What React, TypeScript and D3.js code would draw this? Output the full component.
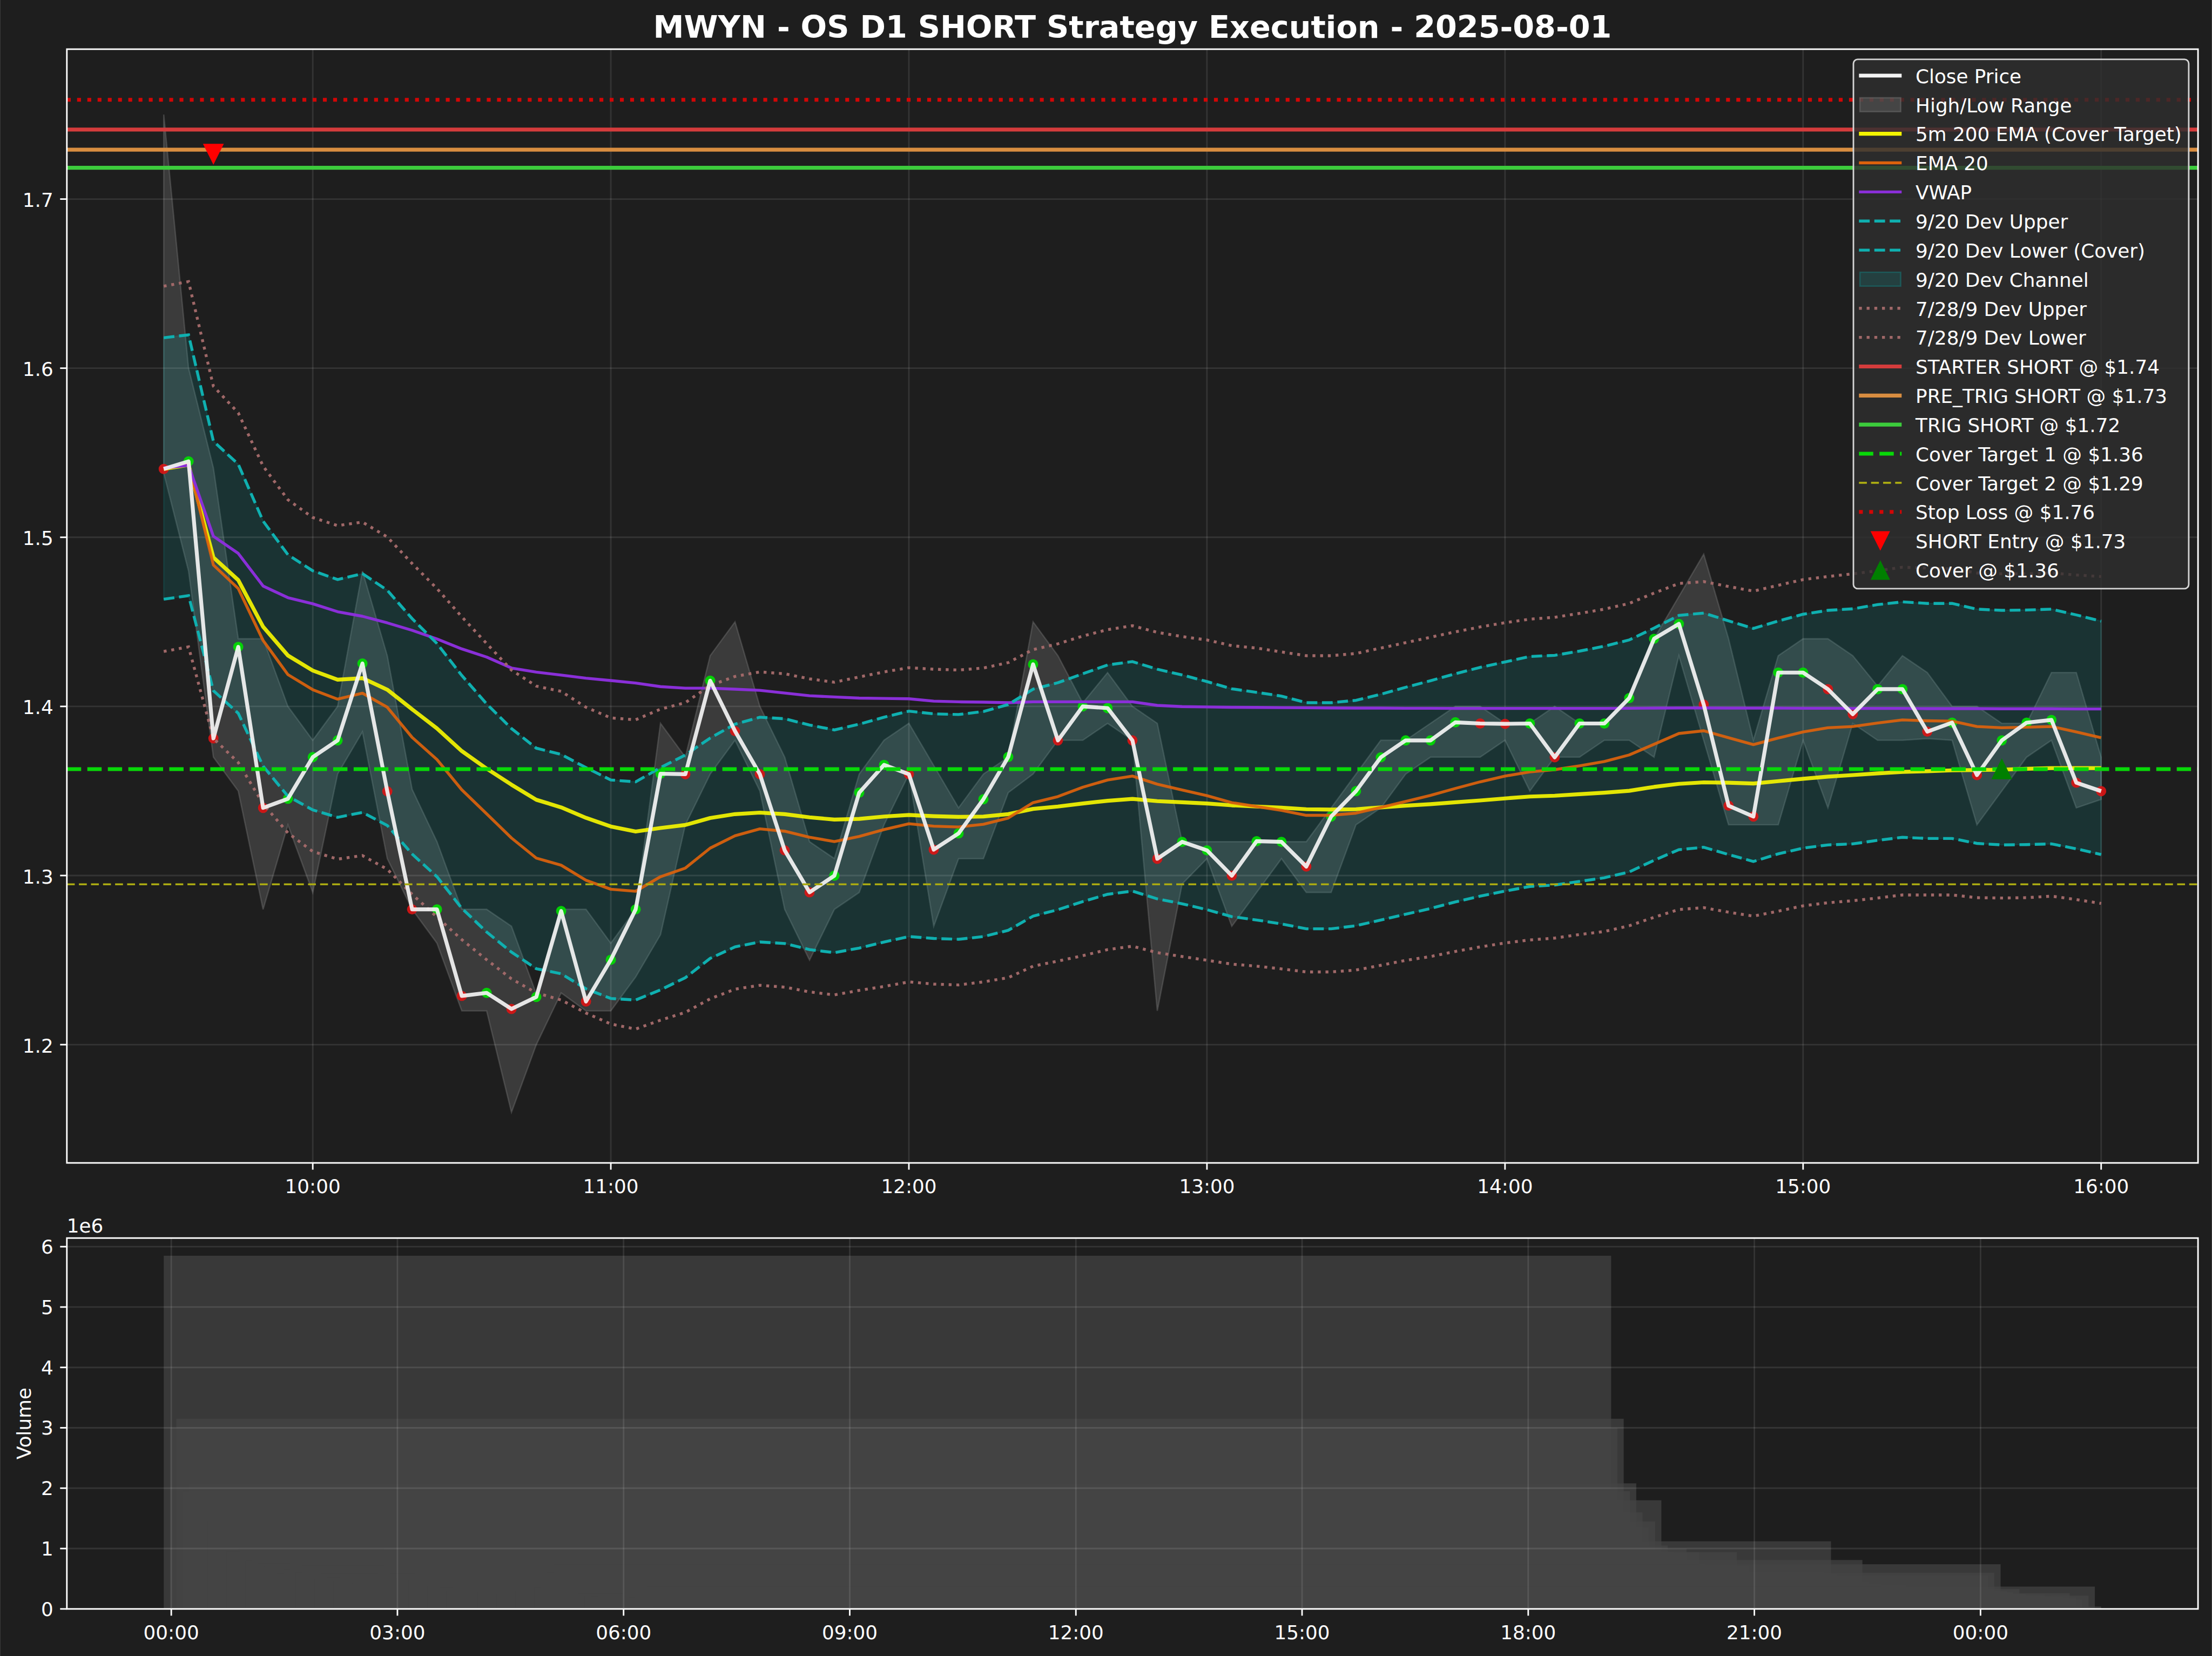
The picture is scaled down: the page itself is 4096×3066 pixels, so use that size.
import * as d3 from 'd3';

// 5-minute bars, 09:30 -> 16:00 on 2025-08-01
const closePrice = [
  1.5404, 1.5449, 1.3811, 1.4352, 1.34, 1.3454, 1.37, 1.3799, 1.4254, 1.3498,
  1.28, 1.28, 1.2288, 1.2306, 1.2211, 1.2282, 1.279, 1.2255, 1.2502, 1.28,
  1.3602, 1.3599, 1.4152, 1.3854, 1.3599, 1.3149, 1.2901, 1.2999, 1.349, 1.3654,
  1.3599, 1.3153, 1.3249, 1.3451, 1.3701, 1.4249, 1.3799, 1.4, 1.399, 1.3799,
  1.3099, 1.3199, 1.3149, 1.2999, 1.3203, 1.3199, 1.3053, 1.3349, 1.3499, 1.3699,
  1.3799, 1.3799, 1.3906, 1.3899, 1.3897, 1.3899, 1.3699, 1.3899, 1.3899, 1.4049,
  1.44, 1.4488, 1.4011, 1.3413, 1.3349, 1.42, 1.42, 1.4102, 1.3954, 1.4102,
  1.4102, 1.3851, 1.3904, 1.3594, 1.3799, 1.3904, 1.392, 1.3549, 1.3499,
];
const highPrice = [
  1.75, 1.6, 1.541, 1.44, 1.44, 1.4, 1.38, 1.4, 1.48, 1.43,
  1.351, 1.32, 1.28, 1.28, 1.27, 1.23, 1.28, 1.28, 1.26, 1.28,
  1.39, 1.37, 1.43, 1.45, 1.4, 1.37, 1.32, 1.31, 1.36, 1.38,
  1.39, 1.365, 1.34, 1.36, 1.37, 1.45, 1.43, 1.402, 1.42, 1.4,
  1.39, 1.32, 1.32, 1.32, 1.32, 1.32, 1.32, 1.34, 1.36, 1.38,
  1.38, 1.39, 1.4, 1.4, 1.39, 1.39, 1.4, 1.39, 1.39, 1.405,
  1.44, 1.465, 1.49, 1.44, 1.38, 1.43, 1.44, 1.44, 1.43, 1.412,
  1.43, 1.42, 1.4, 1.4, 1.39, 1.39, 1.42, 1.42, 1.37,
];
const lowPrice = [
  1.538, 1.48, 1.37, 1.35, 1.28, 1.33, 1.29, 1.36, 1.385, 1.31,
  1.28, 1.26, 1.22, 1.22, 1.16, 1.2, 1.2306, 1.22, 1.22, 1.24,
  1.265, 1.33, 1.36, 1.38, 1.35, 1.28, 1.25, 1.28, 1.29, 1.33,
  1.36, 1.27, 1.31, 1.31, 1.349, 1.36, 1.38, 1.38, 1.39, 1.38,
  1.22, 1.295, 1.31, 1.27, 1.29, 1.31, 1.29, 1.29, 1.33, 1.34,
  1.36, 1.37, 1.37, 1.37, 1.38, 1.35, 1.37, 1.37, 1.38, 1.38,
  1.37, 1.43, 1.38, 1.33, 1.33, 1.33, 1.38, 1.34, 1.39, 1.38,
  1.38, 1.381, 1.38, 1.33, 1.35, 1.37, 1.38, 1.34, 1.345,
];
// 1 = green marker, 0 = red marker
const upBar = [
  0, 1, 0, 1, 0, 1, 1, 1, 1, 0,
  0, 1, 0, 1, 0, 1, 1, 0, 1, 1,
  1, 0, 1, 0, 0, 0, 0, 1, 1, 1,
  0, 0, 1, 1, 1, 1, 0, 1, 1, 0,
  0, 1, 1, 0, 1, 1, 0, 1, 1, 1,
  1, 1, 1, 0, 0, 1, 0, 1, 1, 1,
  1, 1, 0, 0, 0, 1, 1, 0, 0, 1,
  1, 0, 1, 0, 1, 1, 1, 0, 0,
];
const ema200 = [
  1.5404, 1.5428, 1.4881, 1.4747, 1.4471, 1.4301, 1.4212, 1.4158, 1.4167, 1.4099,
  1.3983, 1.387, 1.3736, 1.3632, 1.3537, 1.3448, 1.3403, 1.3341, 1.329, 1.326,
  1.3281, 1.3299, 1.334, 1.3363, 1.3372, 1.3363, 1.3344, 1.3331, 1.3335, 1.3349,
  1.3358, 1.3351, 1.3347, 1.3349, 1.3363, 1.3394, 1.3408, 1.3426, 1.3442, 1.3453,
  1.344, 1.3433, 1.3426, 1.3415, 1.3408, 1.3401, 1.3392, 1.339, 1.3392, 1.3403,
  1.3413, 1.3422, 1.3433, 1.3444, 1.3456, 1.3467, 1.3472, 1.3481, 1.349, 1.3501,
  1.3524, 1.3542, 1.3551, 1.3549, 1.3544, 1.3558, 1.3572, 1.3585, 1.3594, 1.3604,
  1.3613, 1.3617, 1.3622, 1.3624, 1.3626, 1.3631, 1.3635, 1.3635, 1.3635,
];
const ema20 = [
  1.5404, 1.5434, 1.4836, 1.4697, 1.439, 1.4188, 1.4099, 1.4043, 1.4078, 1.3995,
  1.3817, 1.3686, 1.3507, 1.3365, 1.3222, 1.3103, 1.3061, 1.2972, 1.2919, 1.2907,
  1.2993, 1.3044, 1.3162, 1.3235, 1.3276, 1.3262, 1.3226, 1.3201, 1.3231, 1.3272,
  1.3306, 1.3292, 1.3287, 1.3303, 1.334, 1.3431, 1.3467, 1.3522, 1.3565, 1.3588,
  1.354, 1.3506, 1.3472, 1.3431, 1.3408, 1.3385, 1.3356, 1.3356, 1.3369, 1.3403,
  1.3438, 1.3474, 1.3515, 1.3554, 1.3588, 1.3613, 1.3626, 1.3649, 1.3674, 1.3713,
  1.3776, 1.384, 1.3856, 1.3815, 1.3774, 1.3813, 1.3849, 1.3874, 1.3881, 1.3902,
  1.392, 1.3915, 1.3913, 1.3881, 1.3874, 1.3877, 1.3881, 1.3849, 1.3815,
];
const vwap = [
  1.541, 1.5425, 1.5006, 1.4905, 1.4712, 1.4643, 1.4607, 1.456, 1.4533, 1.4494,
  1.445, 1.4399, 1.434, 1.4292, 1.4227, 1.4203, 1.4185, 1.4167, 1.4153, 1.4138,
  1.4117, 1.4108, 1.4108, 1.4102, 1.4095, 1.4079, 1.4063, 1.4056, 1.4049, 1.4047,
  1.4045, 1.4031, 1.4027, 1.4025, 1.4022, 1.4027, 1.4027, 1.4027, 1.4027, 1.4027,
  1.4006, 1.3999, 1.3997, 1.3995, 1.3994, 1.3993, 1.3992, 1.3991, 1.399, 1.399,
  1.3989, 1.3989, 1.3988, 1.3988, 1.3988, 1.3988, 1.3988, 1.3988, 1.3988, 1.3989,
  1.399, 1.3991, 1.3991, 1.399, 1.399, 1.399, 1.3989, 1.3989, 1.3988, 1.3988,
  1.3988, 1.3987, 1.3987, 1.3987, 1.3986, 1.3986, 1.3986, 1.3985, 1.3985,
];
const devUpper = [
  1.618, 1.6197, 1.5568, 1.5432, 1.5096, 1.4897, 1.4802, 1.475, 1.4785, 1.4687,
  1.4519, 1.4372, 1.4183, 1.4015, 1.3869, 1.3753, 1.3716, 1.3638, 1.3565, 1.3554,
  1.3638, 1.3713, 1.3813, 1.3895, 1.3936, 1.3927, 1.389, 1.3861, 1.3895, 1.3936,
  1.3972, 1.3956, 1.3952, 1.397, 1.4011, 1.4102, 1.414, 1.4193, 1.4245, 1.4265,
  1.422, 1.4186, 1.4147, 1.4104, 1.4083, 1.4061, 1.4022, 1.4022, 1.4036, 1.4072,
  1.4113, 1.4152, 1.4193, 1.4231, 1.4263, 1.4295, 1.4302, 1.4327, 1.4356, 1.4393,
  1.4463, 1.4538, 1.4552, 1.4506, 1.4461, 1.4505, 1.4545, 1.4568, 1.4577, 1.4602,
  1.4618, 1.4609, 1.4609, 1.4575, 1.4568, 1.457, 1.4575, 1.4541, 1.4504,
];
const devLower = [
  1.4634, 1.4655, 1.4093, 1.3959, 1.3647, 1.3469, 1.3388, 1.3344, 1.3373, 1.3296,
  1.3127, 1.2993, 1.2806, 1.2666, 1.2547, 1.2449, 1.2419, 1.233, 1.2273, 1.2264,
  1.2324, 1.2396, 1.251, 1.2578, 1.2607, 1.2598, 1.2562, 1.2544, 1.2571, 1.2607,
  1.2639, 1.2628, 1.2623, 1.2639, 1.2676, 1.276, 1.2798, 1.2846, 1.2889, 1.2908,
  1.2862, 1.2833, 1.2798, 1.2757, 1.2737, 1.2714, 1.2685, 1.2685, 1.2703, 1.2737,
  1.2771, 1.2805, 1.2844, 1.2878, 1.2908, 1.2935, 1.2944, 1.2965, 1.2987, 1.3021,
  1.309, 1.3153, 1.3167, 1.3124, 1.3083, 1.3128, 1.3162, 1.3181, 1.3187, 1.3208,
  1.3226, 1.3219, 1.3219, 1.319, 1.3181, 1.3183, 1.3187, 1.3158, 1.3124,
];
const dev7Upper = [
  1.6485, 1.6512, 1.5893, 1.5736, 1.5421, 1.5222, 1.5117, 1.5069, 1.509, 1.5002,
  1.4845, 1.4697, 1.453, 1.4372, 1.4215, 1.412, 1.4089, 1.3995, 1.3932, 1.3921,
  1.3984, 1.4022, 1.4124, 1.4177, 1.4204, 1.4193, 1.4163, 1.4143, 1.4174, 1.4204,
  1.4229, 1.422, 1.4215, 1.4227, 1.4259, 1.4336, 1.437, 1.4416, 1.4454, 1.4477,
  1.4438, 1.4413, 1.4393, 1.4359, 1.4345, 1.4322, 1.43, 1.43, 1.4313, 1.4345,
  1.4377, 1.4409, 1.4441, 1.447, 1.4495, 1.4516, 1.4527, 1.455, 1.4575, 1.4609,
  1.467, 1.4727, 1.4738, 1.4709, 1.4682, 1.4716, 1.475, 1.4768, 1.4784, 1.4802,
  1.4823, 1.4818, 1.4814, 1.4789, 1.4784, 1.4784, 1.4789, 1.4777, 1.4768,
];
const dev7Lower = [
  1.4325, 1.4352, 1.3811, 1.3668, 1.3424, 1.3252, 1.3142, 1.3097, 1.3118, 1.3037,
  1.2889, 1.2755, 1.2621, 1.2502, 1.2389, 1.2306, 1.2264, 1.2187, 1.2122, 1.2092,
  1.2145, 1.2191, 1.2271, 1.2328, 1.2351, 1.234, 1.2312, 1.2294, 1.2321, 1.2344,
  1.2371, 1.2358, 1.2353, 1.2371, 1.2396, 1.2464, 1.2494, 1.2526, 1.2562, 1.2582,
  1.2544, 1.2521, 1.2499, 1.2476, 1.2464, 1.2448, 1.243, 1.243, 1.2441, 1.2469,
  1.2498, 1.2521, 1.2551, 1.2578, 1.2601, 1.2619, 1.263, 1.2651, 1.2669, 1.2703,
  1.2753, 1.2799, 1.281, 1.2783, 1.276, 1.2789, 1.2821, 1.2839, 1.2851, 1.2867,
  1.2885, 1.2885, 1.2885, 1.2869, 1.2867, 1.2869, 1.2878, 1.2858, 1.2835,
];
// volume in millions of shares
const volumeM = [
  5.85, 3.0, 3.15, 1.95, 2.08, 1.6, 1.35, 1.45, 1.8, 1.05,
  0.95, 0.9, 1.0, 0.8, 0.94, 0.75, 0.7, 0.62, 0.58, 0.66,
  0.94, 0.6, 0.72, 0.55, 0.5, 0.58, 0.52, 0.45, 0.55, 0.48,
  0.42, 0.5, 0.44, 0.46, 0.62, 1.12, 0.58, 0.5, 0.46, 0.48,
  0.81, 0.45, 0.38, 0.42, 0.35, 0.3, 0.36, 0.4, 0.33, 0.3,
  0.28, 0.25, 0.3, 0.24, 0.22, 0.26, 0.3, 0.24, 0.22, 0.35,
  0.55, 0.6, 0.74, 0.3, 0.28, 0.33, 0.25, 0.22, 0.2, 0.24,
  0.21, 0.18, 0.2, 0.26, 0.19, 0.16, 0.22, 0.37, 0.04,
];

// trade levels
const stopLoss = 1.7587;
const starterShort = 1.7411;
const preTrigShort = 1.7292;
const trigShort = 1.7185;
const coverTarget1 = 1.3629;
const coverTarget2 = 1.2948;
const entryBar = 2;
const entryPrice = 1.7265;
const coverBar = 74;
const coverPrice = 1.3631;

const legendLabels = [
  'Close Price', 'High/Low Range', '5m 200 EMA (Cover Target)', 'EMA 20', 'VWAP',
  '9/20 Dev Upper', '9/20 Dev Lower (Cover)', '9/20 Dev Channel', '7/28/9 Dev Upper', '7/28/9 Dev Lower',
  'STARTER SHORT @ $1.74', 'PRE_TRIG SHORT @ $1.73', 'TRIG SHORT @ $1.72',
  'Cover Target 1 @ $1.36', 'Cover Target 2 @ $1.29', 'Stop Loss @ $1.76',
  'SHORT Entry @ $1.73', 'Cover @ $1.36',
];

const W = 4769;
const H = 3570;
const PT = 300 / 72;
const FS = 10 * PT;
const FONT = 'DejaVu Sans';
const BG = '#1e1e1e';

const C = {
  close: '#f4f4f4', up: '#00e000', down: '#dc1414', ema200: '#f4f400', ema20: '#dc620c',
  vwap: '#8a2fd8', dev: '#0fb0b0', chan: '#00bfbf', dev7: '#a06868', hl: '#808080',
  starter: '#d43c3c', pre: '#d88d40', trig: '#3ccc3c', cover1: '#08d808', cover2: '#aaaa12',
  stop: '#d20606', entry: '#ff0000', coverMk: '#008000',
};

const main = { left: 144, right: 4739, top: 106, bottom: 2507 };
const vol = { left: 144, right: 4739, top: 2669, bottom: 3468.5 };

const HOUR = 3600e3;
const barTimes = closePrice.map((_, i) => new Date(Date.UTC(2025, 7, 1, 9, 30 + 5 * i)));
const t0 = +barTimes[0];
const tN = +barTimes[barTimes.length - 1];

export default function App() {
  // main price axes
  const pad = (tN - t0) * 0.05;
  const x = d3.scaleUtc().domain([t0 - pad, tN + pad]).range([main.left, main.right]);
  const lo = d3.min(lowPrice)!;
  const hi = Math.max(d3.max(highPrice)!, stopLoss);
  const yp = (hi - lo) * 0.05;
  const y = d3.scaleLinear().domain([lo - yp, hi + yp]).range([main.bottom, main.top]);

  // volume axes: bars are 0.8 day wide, centred on each bar time
  const halfW = 0.4 * 24 * HOUR;
  const vSpan = tN + halfW - (t0 - halfW);
  const xv = d3.scaleUtc()
    .domain([t0 - halfW - vSpan * 0.05, tN + halfW + vSpan * 0.05])
    .range([vol.left, vol.right]);
  const yv = d3.scaleLinear().domain([0, d3.max(volumeM)! * 1.05]).range([vol.bottom, vol.top]);

  const line = (arr: number[]) =>
    d3.line<number>().x((_, i) => x(barTimes[i])).y((d) => y(d))(arr) || '';
  const band = (a: number[], b: number[]) =>
    d3.area<number>().x((_, i) => x(barTimes[i])).y0((_, i) => y(a[i])).y1((_, i) => y(b[i]))(a) || '';

  const xTicks = x.ticks(d3.utcHour.every(1)!);
  const yTicks = y.ticks(6);
  const xvTicks = xv.ticks(d3.utcHour.every(3)!);
  const yvTicks = yv.ticks(7);
  const fmt = d3.utcFormat('%H:%M');

  const lw15 = 1.5 * PT;
  const lw2 = 2 * PT;
  const dash15 = `${3.7 * lw15} ${1.6 * lw15}`;
  const dot15 = `${lw15} ${1.65 * lw15}`;
  const dash2 = `${3.7 * lw2} ${1.6 * lw2}`;
  const dot2 = `${lw2} ${1.65 * lw2}`;
  const dash1 = '17 9';

  const hLine = (v: number, color: string, w: number, dash?: string) => (
    <line x1={main.left} x2={main.right} y1={y(v)} y2={y(v)} stroke={color} strokeWidth={w}
      strokeDasharray={dash} />
  );
  const tri = (cx: number, cy: number, r: number, down: boolean) =>
    down
      ? `M${cx - r},${cy - r}L${cx + r},${cy - r}L${cx},${cy + r}Z`
      : `M${cx - r},${cy + r}L${cx + r},${cy + r}L${cx},${cy - r}Z`;

  // legend handles
  type H = { kind: 'line'; color: string; w: number; dash?: string }
    | { kind: 'patch'; color: string; op: number }
    | { kind: 'marker'; color: string; down: boolean };
  const handles: H[] = [
    { kind: 'line', color: C.close, w: lw2 },
    { kind: 'patch', color: C.hl, op: 0.3 },
    { kind: 'line', color: C.ema200, w: lw2 },
    { kind: 'line', color: C.ema20, w: lw15 },
    { kind: 'line', color: C.vwap, w: lw15 },
    { kind: 'line', color: C.dev, w: lw15, dash: dash15 },
    { kind: 'line', color: C.dev, w: lw15, dash: dash15 },
    { kind: 'patch', color: C.chan, op: 0.15 },
    { kind: 'line', color: C.dev7, w: lw15, dash: dot15 },
    { kind: 'line', color: C.dev7, w: lw15, dash: dot15 },
    { kind: 'line', color: C.starter, w: lw2 },
    { kind: 'line', color: C.pre, w: lw2 },
    { kind: 'line', color: C.trig, w: lw2 },
    { kind: 'line', color: C.cover1, w: lw2, dash: dash2 },
    { kind: 'line', color: C.cover2, w: PT, dash: dash1 },
    { kind: 'line', color: C.stop, w: lw2, dash: dot2 },
    { kind: 'marker', color: C.entry, down: true },
    { kind: 'marker', color: C.coverMk, down: false },
  ];
  const lg = { x0: 3996, x1: 4719, y0: 128, y1: 1269, hx0: 4008, hx1: 4100, tx: 4130, row0: 163, step: 62.7 };

  const gridStroke = { stroke: '#ffffff', strokeOpacity: 0.1, strokeWidth: 0.8 * PT };

  return (
    <svg width={4096} height={3066} viewBox={`0 0 ${W} ${H}`}
      style={{ position: 'absolute', left: 0, top: 0, display: 'block' }}
      fontFamily={FONT}>
      <rect x={0} y={0} width={W} height={H} fill={BG} />

      {/* title */}
      <text x={(main.left + main.right) / 2} y={82} fill="#ffffff" fontSize={16 * PT}
        fontWeight="bold" textAnchor="middle">MWYN - OS D1 SHORT Strategy Execution - 2025-08-01</text>

      {/* ===== main price panel ===== */}
      <path d={band(lowPrice, highPrice)} fill={C.hl} fillOpacity={0.3} stroke={C.hl}
        strokeOpacity={0.35} strokeWidth={3} />
      <path d={band(devLower, devUpper)} fill={C.chan} fillOpacity={0.13} stroke={C.chan}
        strokeOpacity={0.13} strokeWidth={3} />

      {xTicks.map((t) => (
        <line key={'gx' + +t} x1={x(t)} x2={x(t)} y1={main.top} y2={main.bottom} {...gridStroke} />
      ))}
      {yTicks.map((v) => (
        <line key={'gy' + v} x1={main.left} x2={main.right} y1={y(v)} y2={y(v)} {...gridStroke} />
      ))}

      {closePrice.map((v, i) => (
        <circle key={'m' + i} cx={x(barTimes[i])} cy={y(v)} r={11} fill={upBar[i] ? C.up : C.down}
          fillOpacity={0.9} />
      ))}

      <path d={line(ema200)} fill="none" stroke={C.ema200} strokeOpacity={0.92} strokeWidth={lw2}
        strokeLinejoin="round" />
      <path d={line(ema20)} fill="none" stroke={C.ema20} strokeOpacity={0.92} strokeWidth={lw15}
        strokeLinejoin="round" />
      <path d={line(vwap)} fill="none" stroke={C.vwap} strokeWidth={lw15} strokeLinejoin="round" />
      <path d={line(devUpper)} fill="none" stroke={C.dev} strokeWidth={lw15} strokeDasharray={dash15} />
      <path d={line(devLower)} fill="none" stroke={C.dev} strokeWidth={lw15} strokeDasharray={dash15} />
      <path d={line(dev7Upper)} fill="none" stroke={C.dev7} strokeWidth={lw15} strokeDasharray={dot15} />
      <path d={line(dev7Lower)} fill="none" stroke={C.dev7} strokeWidth={lw15} strokeDasharray={dot15} />

      <path d={line(closePrice)} fill="none" stroke={C.close} strokeOpacity={0.92} strokeWidth={lw2}
        strokeLinejoin="round" />

      {hLine(starterShort, C.starter, lw2)}
      {hLine(preTrigShort, C.pre, lw2)}
      {hLine(trigShort, C.trig, lw2)}
      {hLine(coverTarget1, C.cover1, lw2, dash2)}
      {hLine(coverTarget2, C.cover2, PT, dash1)}
      {hLine(stopLoss, C.stop, lw2, dot2)}

      <path d={tri(x(barTimes[entryBar]), y(entryPrice), 22.5, true)} fill={C.entry} />
      <path d={tri(x(barTimes[coverBar]), y(coverPrice), 22.5, false)} fill={C.coverMk} />

      {/* legend */}
      <rect x={lg.x0} y={lg.y0} width={lg.x1 - lg.x0} height={lg.y1 - lg.y0} rx={9}
        fill="#2e2e2e" fillOpacity={0.82} stroke="#d4d4d4" strokeWidth={0.8 * PT} />
      {legendLabels.map((label, k) => {
        const cy = lg.row0 + k * lg.step;
        const h = handles[k];
        let mark = null;
        if (h.kind === 'line') {
          mark = <line x1={lg.hx0} x2={lg.hx1} y1={cy} y2={cy} stroke={h.color} strokeWidth={h.w}
            strokeDasharray={h.dash} />;
        } else if (h.kind === 'patch') {
          mark = <rect x={lg.hx0 + 2} y={cy - 15} width={lg.hx1 - lg.hx0 - 4} height={30}
            fill={h.color} fillOpacity={h.op} stroke={h.color} strokeOpacity={h.op + 0.1} strokeWidth={3} />;
        } else {
          mark = <path d={tri((lg.hx0 + lg.hx1) / 2, cy, 21, h.down)} fill={h.color} />;
        }
        return (
          <g key={'lg' + k}>
            {mark}
            <text x={lg.tx} y={cy + 16} fill="#ffffff" fontSize={FS}>{label}</text>
          </g>
        );
      })}

      {/* main axes frame, ticks, labels */}
      <rect x={main.left} y={main.top} width={main.right - main.left} height={main.bottom - main.top}
        fill="none" stroke="#ffffff" strokeWidth={0.8 * PT} />
      {xTicks.map((t) => (
        <g key={'xt' + +t}>
          <line x1={x(t)} x2={x(t)} y1={main.bottom} y2={main.bottom + 3.5 * PT} stroke="#ffffff"
            strokeWidth={0.8 * PT} />
          <text x={x(t)} y={main.bottom + 65} fill="#ffffff" fontSize={FS} textAnchor="middle">{fmt(t)}</text>
        </g>
      ))}
      {yTicks.map((v) => (
        <g key={'yt' + v}>
          <line x1={main.left - 3.5 * PT} x2={main.left} y1={y(v)} y2={y(v)} stroke="#ffffff"
            strokeWidth={0.8 * PT} />
          <text x={main.left - 7 * PT} y={y(v) + 17} fill="#ffffff" fontSize={FS} textAnchor="end">
            {v.toFixed(1)}
          </text>
        </g>
      ))}

      {/* ===== volume panel ===== */}
      {volumeM.map((v, i) => {
        const t = +barTimes[i];
        const xa = xv(new Date(t - halfW));
        const xb = xv(new Date(t + halfW));
        return (
          <rect key={'v' + i} x={xa} y={yv(v)} width={xb - xa} height={yv(0) - yv(v)}
            fill="#444444" fillOpacity={0.7} />
        );
      })}
      {xvTicks.map((t) => (
        <line key={'gvx' + +t} x1={xv(t)} x2={xv(t)} y1={vol.top} y2={vol.bottom} {...gridStroke} />
      ))}
      {yvTicks.map((v) => (
        <line key={'gvy' + v} x1={vol.left} x2={vol.right} y1={yv(v)} y2={yv(v)} {...gridStroke} />
      ))}
      <rect x={vol.left} y={vol.top} width={vol.right - vol.left} height={vol.bottom - vol.top}
        fill="none" stroke="#ffffff" strokeWidth={0.8 * PT} />
      {xvTicks.map((t) => (
        <g key={'xvt' + +t}>
          <line x1={xv(t)} x2={xv(t)} y1={vol.bottom} y2={vol.bottom + 3.5 * PT} stroke="#ffffff"
            strokeWidth={0.8 * PT} />
          <text x={xv(t)} y={vol.bottom + 65} fill="#ffffff" fontSize={FS} textAnchor="middle">{fmt(t)}</text>
        </g>
      ))}
      {yvTicks.map((v) => (
        <g key={'yvt' + v}>
          <line x1={vol.left - 3.5 * PT} x2={vol.left} y1={yv(v)} y2={yv(v)} stroke="#ffffff"
            strokeWidth={0.8 * PT} />
          <text x={vol.left - 7 * PT} y={yv(v) + 15} fill="#ffffff" fontSize={FS} textAnchor="end">{v}</text>
        </g>
      ))}
      <text x={vol.left} y={vol.top - 12} fill="#ffffff" fontSize={FS}>1e6</text>
      <text transform={`translate(66,${(vol.top + vol.bottom) / 2}) rotate(-90)`} fill="#ffffff"
        fontSize={FS} textAnchor="middle">Volume</text>
    </svg>
  );
}
